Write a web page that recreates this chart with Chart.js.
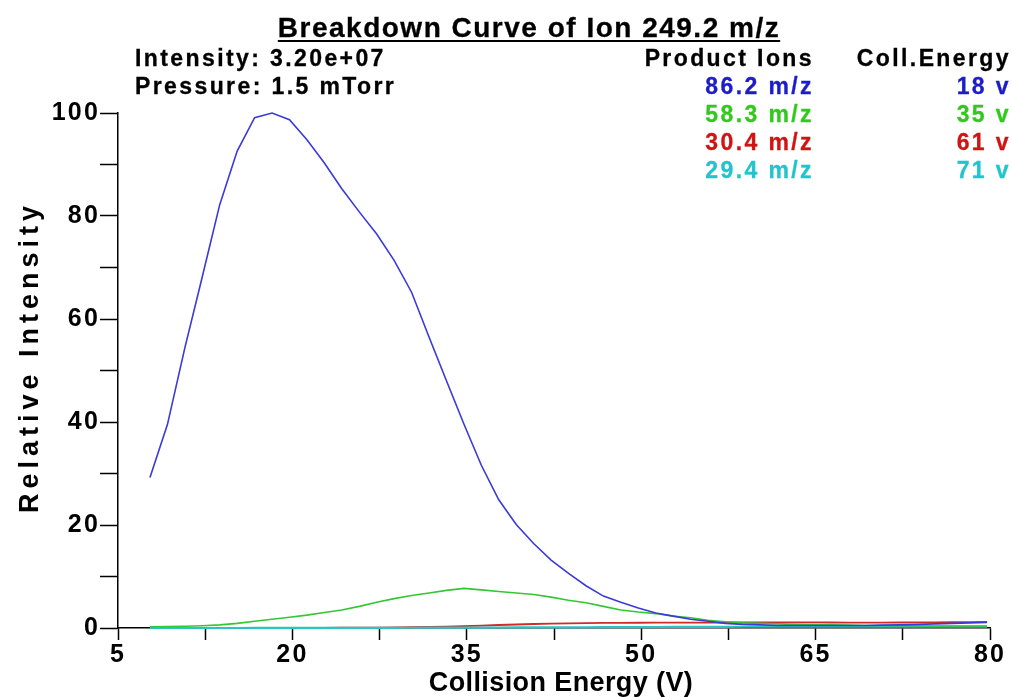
<!DOCTYPE html>
<html lang="en">
<head>
<meta charset="UTF-8">
<title>Breakdown Curve of Ion 249.2 m/z</title>
<script src="https://cdn.jsdelivr.net/npm/chart.js"></script>
<style>
  body { margin: 0; background: #fff; }
  #wrap { position: relative; width: 1012px; height: 697px; font-family: "Liberation Sans", Arial, sans-serif; font-weight: bold; color: #000; }
  #chart { position: absolute; left: 0; top: 0; }
  .txt { position: absolute; white-space: nowrap; font-size: 23px; line-height: 23px; letter-spacing: 2.4px; -webkit-text-stroke: 0.3px currentColor; }
  .r { text-align: right; }
  #title { position: absolute; top: 14px; left: 529px; transform: translateX(-50%); white-space: nowrap;
           font-size: 28px; line-height: 27px; letter-spacing: 1.5px; -webkit-text-stroke: 0.3px #000;
           text-decoration: underline; text-decoration-thickness: 2px; text-underline-offset: 3px; }
</style>
</head>
<body>
<div id="wrap">
  <canvas id="chart" width="1012" height="697"></canvas>
  <div id="title">Breakdown Curve of Ion 249.2 m/z</div>
  <div class="txt" style="left:135px; top:47px">Intensity: 3.20e+07</div>
  <div class="txt" style="left:135px; top:75px">Pressure: 1.5 mTorr</div>
  <div id="legend"></div>
</div>
<script>
  // collision energy steps (V)
  const energies = [7.75, 9.25, 10.75, 12.25, 13.75, 15.25, 16.75, 18.25, 19.75, 21.25,
    22.75, 24.25, 25.75, 27.25, 28.75, 30.25, 31.75, 33.25, 34.75, 36.25,
    37.75, 39.25, 40.75, 42.25, 43.75, 45.25, 46.75, 48.25, 49.75, 51.25,
    52.75, 54.25, 55.75, 57.25, 58.75, 60.25, 61.75, 63.25, 64.75, 66.25,
    67.75, 69.25, 70.75, 72.25, 73.75, 75.25, 76.75, 78.25, 79.75];

  // relative intensity of each product ion
  const ion862 = [29.2, 39.5, 54.4, 68.2, 82.2, 92.6, 99.1, 100, 98.7, 94.8,
    90.3, 85.3, 80.8, 76.5, 71.4, 65.2, 56.5, 48.0, 39.6, 31.6,
    24.9, 20.1, 16.4, 13.2, 10.6, 8.2, 6.2, 5.0, 3.9, 2.9,
    2.3, 1.7, 1.3, 0.9, 0.7, 0.6, 0.5, 0.5, 0.5, 0.5,
    0.5, 0.5, 0.55, 0.6, 0.7, 0.8, 0.9, 1.0, 1.1];
  const ion583 = [0.25, 0.3, 0.35, 0.45, 0.6, 0.9, 1.3, 1.7, 2.1, 2.5,
    3.0, 3.5, 4.2, 5.0, 5.7, 6.3, 6.8, 7.3, 7.7, 7.4,
    7.1, 6.8, 6.5, 6.0, 5.4, 4.9, 4.2, 3.5, 3.1, 2.8,
    2.3, 2.0, 1.5, 1.2, 1.0, 0.9, 0.8, 0.7, 0.65, 0.6,
    0.55, 0.5, 0.5, 0.45, 0.45, 0.4, 0.4, 0.4, 0.4];
  const ion304 = [0, 0, 0, 0, 0, 0, 0, 0, 0.02, 0.03,
    0.04, 0.05, 0.06, 0.08, 0.1, 0.15, 0.2, 0.28, 0.38, 0.48,
    0.58, 0.68, 0.78, 0.85, 0.9, 0.95, 0.98, 1.0, 1.02, 1.03,
    1.04, 1.05, 1.06, 1.07, 1.08, 1.09, 1.1, 1.09, 1.08, 1.07,
    1.06, 1.06, 1.06, 1.07, 1.08, 1.1, 1.12, 1.15, 1.2];
  const ion294 = [0, 0, 0, 0, 0, 0, 0.01, 0.01, 0.01, 0.02,
    0.02, 0.02, 0.03, 0.03, 0.04, 0.05, 0.06, 0.07, 0.08, 0.09,
    0.1, 0.11, 0.12, 0.13, 0.14, 0.15, 0.16, 0.17, 0.18, 0.19,
    0.2, 0.21, 0.22, 0.23, 0.24, 0.24, 0.25, 0.25, 0.26, 0.26,
    0.27, 0.27, 0.27, 0.27, 0.26, 0.26, 0.26, 0.25, 0.25];

  const ionNames = ['86.2 m/z', '58.3 m/z', '30.4 m/z', '29.4 m/z'];
  const optEnergies = ['18 v', '35 v', '61 v', '71 v'];
  const lineColors = ['#3a3ad8', '#33c833', '#d02a2a', '#2ec2c2'];
  const lineWidths = [1.6, 1.6, 1.8, 2.2];
  const drawOrder = [0, 1, 3, 2]; // cyan sits above red on the baseline
  const textColors = ['#1c1cc8', '#33c81e', '#d01414', '#22c4cc'];

  const xTicks = [5, 12.5, 20, 27.5, 35, 42.5, 50, 57.5, 65, 72.5, 80];
  const xLabels = [5, 20, 35, 50, 65, 80];
  const yTicks = [0, 10, 20, 30, 40, 50, 60, 70, 80, 90, 100];
  const yLabels = [0, 20, 40, 60, 80, 100];

  const xTitle = 'Collision Energy (V)';
  const yTitle = 'Relative Intensity';

  // legend block on the right
  const legend = document.getElementById('legend');
  let html = '<div class="txt r" style="right:198px; top:47px">Product Ions</div>' +
             '<div class="txt r" style="right:1px; top:47px">Coll.Energy</div>';
  const rowTop = [75, 103, 131, 159];
  ionNames.forEach((name, i) => {
    html += `<div class="txt r" style="right:198px; top:${rowTop[i]}px; color:${textColors[i]}">${name}</div>`;
    html += `<div class="txt r" style="right:1px; top:${rowTop[i]}px; color:${textColors[i]}">${optEnergies[i]}</div>`;
  });
  legend.innerHTML = html;

  const fontFamily = '"Liberation Sans", Arial, sans-serif';

  const axisTitles = {
    id: 'axisTitles',
    beforeDraw(chart) {
      chart.ctx.letterSpacing = '2.2px';
    },
    afterDraw(chart) {
      const ctx = chart.ctx;
      ctx.save();
      ctx.fillStyle = '#000';
      ctx.textAlign = 'center';
      ctx.textBaseline = 'middle';
      ctx.font = 'bold 27px ' + fontFamily;
      ctx.letterSpacing = '0.4px';
      ctx.fillText(xTitle, 561, 684);
      ctx.translate(31, 357);
      ctx.rotate(-Math.PI / 2);
      ctx.font = 'bold 27px ' + fontFamily;
      ctx.letterSpacing = '5px';
      ctx.fillText(yTitle, 0, 0);
      ctx.restore();
    }
  };

  const datasets = [ion862, ion583, ion304, ion294].map((vals, i) => ({
    label: ionNames[i],
    data: vals.map((v, j) => ({ x: energies[j], y: v })),
    borderColor: lineColors[i],
    borderWidth: lineWidths[i],
    order: drawOrder[i],
    pointRadius: 0,
    tension: 0,
    fill: false,
    clip: false
  }));

  new Chart(document.getElementById('chart'), {
    type: 'line',
    data: { datasets: datasets },
    plugins: [axisTitles],
    options: {
      responsive: false,
      animation: false,
      layout: { padding: { top: 113, right: 22, left: 0, bottom: 0 } },
      plugins: {
        legend: { display: false },
        tooltip: { enabled: false },
        title: { display: false }
      },
      scales: {
        x: {
          type: 'linear',
          min: 5,
          max: 80,
          afterBuildTicks: s => { s.ticks = xTicks.map(v => ({ value: v })); },
          afterFit: s => { s.height = 69; },
          ticks: {
            autoSkip: false,
            maxRotation: 0,
            padding: 0,
            color: '#000',
            font: { family: fontFamily, weight: 'bold', size: 25 },
            callback: v => xLabels.includes(v) ? String(v) : ''
          },
          grid: { drawOnChartArea: false, drawTicks: true, tickLength: 12, tickColor: '#000', tickWidth: 1.5 },
          border: { display: true, color: '#000', width: 1.5 }
        },
        y: {
          min: 0,
          max: 100,
          afterBuildTicks: s => { s.ticks = yTicks.map(v => ({ value: v })); },
          afterFit: s => { s.width = 118; },
          ticks: {
            autoSkip: false,
            padding: 0,
            color: '#000',
            font: { family: fontFamily, weight: 'bold', size: 25 },
            callback: v => yLabels.includes(v) ? String(v) : ''
          },
          grid: { drawOnChartArea: false, drawTicks: true, tickLength: 18, tickColor: '#000', tickWidth: 1.5 },
          border: { display: true, color: '#000', width: 1.5 }
        }
      }
    }
  });
</script>
</body>
</html>
